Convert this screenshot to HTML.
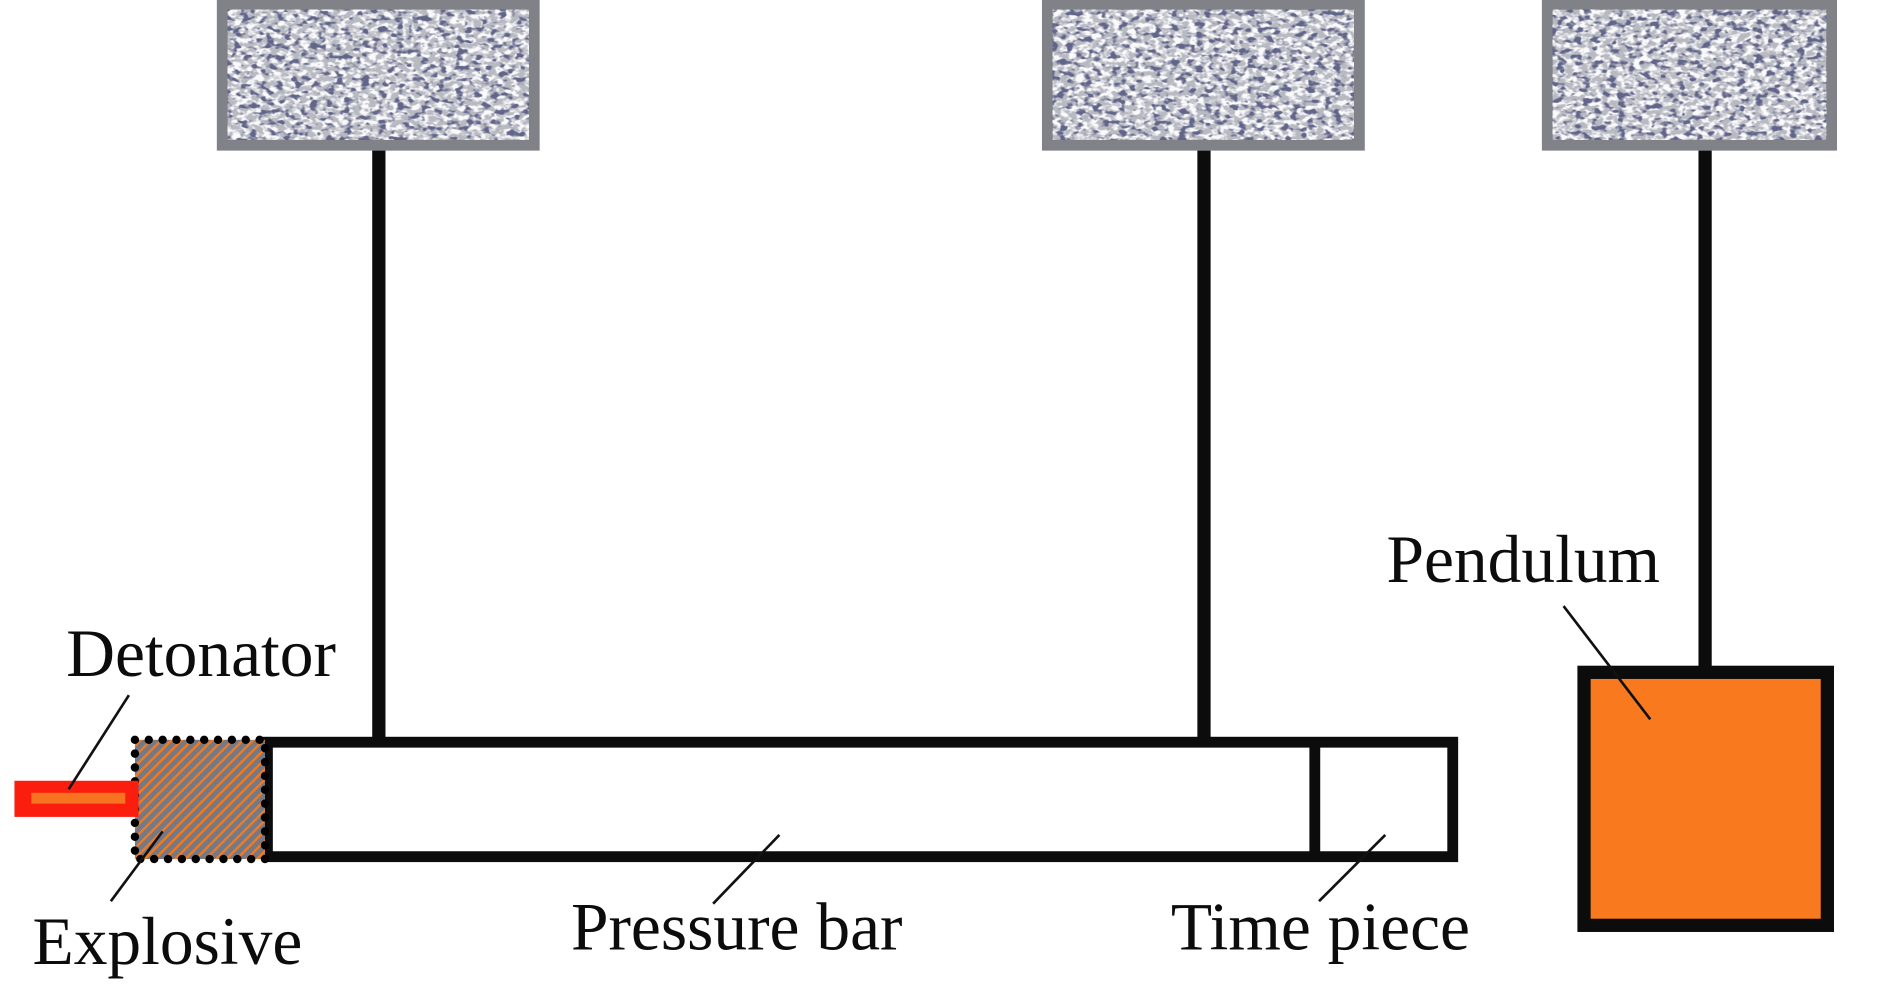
<!DOCTYPE html>
<html><head><meta charset="utf-8"><style>html,body{margin:0;padding:0;background:#fff;overflow:hidden}svg{display:block}</style></head>
<body>
<svg width="1890" height="988" viewBox="0 0 1569 820" preserveAspectRatio="none" xmlns="http://www.w3.org/2000/svg">
<defs>
<filter id="dark" x="0" y="0" width="100%" height="100%">
<feTurbulence type="fractalNoise" baseFrequency="0.14 0.22" numOctaves="2" seed="3"/>
<feColorMatrix type="matrix" values="0 0 0 0 0.12  0 0 0 0 0.13  0 0 0 0 0.25  6 0 0 0 -3.1"/>
</filter>
<filter id="light" x="0" y="0" width="100%" height="100%">
<feTurbulence type="fractalNoise" baseFrequency="0.16 0.25" numOctaves="2" seed="11"/>
<feColorMatrix type="matrix" values="0 0 0 0 0.96  0 0 0 0 0.96  0 0 0 0 0.97  0 5 0 0 -2.1"/>
</filter>
<pattern id="hatch" width="6" height="6" patternUnits="userSpaceOnUse" patternTransform="rotate(45)">
<rect width="6" height="6" fill="#767983"/><rect width="2" height="6" fill="#f07a22"/>
</pattern>
</defs>
<rect width="1569" height="820" fill="#fff"/>
<g>
<rect x="180" y="0" width="268" height="125" fill="#818288"/>
<rect x="189" y="8" width="250" height="108" fill="#b8bac2"/>
<rect x="189" y="8" width="250" height="108" filter="url(#light)"/>
<rect x="189" y="8" width="250" height="108" filter="url(#dark)"/>
<rect x="865" y="0" width="268" height="125" fill="#818288"/>
<rect x="874" y="8" width="250" height="108" fill="#b8bac2"/>
<rect x="874" y="8" width="250" height="108" filter="url(#light)"/>
<rect x="874" y="8" width="250" height="108" filter="url(#dark)"/>
<rect x="1280" y="0" width="245" height="125" fill="#818288"/>
<rect x="1289" y="8" width="227" height="108" fill="#b8bac2"/>
<rect x="1289" y="8" width="227" height="108" filter="url(#light)"/>
<rect x="1289" y="8" width="227" height="108" filter="url(#dark)"/>
</g>
<rect x="309" y="125" width="11" height="490" fill="#0c0c0c"/>
<rect x="994" y="125" width="11" height="490" fill="#0c0c0c"/>
<rect x="1410" y="125" width="11" height="432" fill="#0c0c0c"/>
<rect x="222" y="616" width="984" height="95" fill="#fff" stroke="#0c0c0c" stroke-width="9"/>
<rect x="1087" y="616" width="9" height="95" fill="#0c0c0c"/>
<rect x="112" y="614" width="108" height="99" fill="url(#hatch)"/>
<rect x="112" y="614" width="108" height="99" fill="none" stroke="#000" stroke-width="7" stroke-dasharray="0 11.5" stroke-linecap="round"/>
<rect x="12" y="648" width="103" height="30" fill="#fb1e0e"/>
<rect x="26" y="658" width="78" height="9" fill="#f7731f"/>
<rect x="1315" y="558" width="202" height="210" fill="#f97a1e" stroke="#0c0c0c" stroke-width="11"/>
<g stroke="#111" stroke-width="2.2">
<line x1="107" y1="577" x2="57" y2="655"/>
<line x1="135" y1="690" x2="92" y2="748"/>
<line x1="647" y1="693" x2="592" y2="750"/>
<line x1="1150" y1="693" x2="1095" y2="748"/>
<line x1="1298" y1="503" x2="1370" y2="597"/>
</g>
<g font-family="Liberation Serif, serif" font-size="56" fill="#0c0c0c">
<text x="55" y="561">Detonator</text>
<text x="27" y="800">Explosive</text>
<text x="474" y="788">Pressure bar</text>
<text x="972" y="788">Time piece</text>
<text x="1151" y="483">Pendulum</text>
</g>
</svg>
</body></html>
